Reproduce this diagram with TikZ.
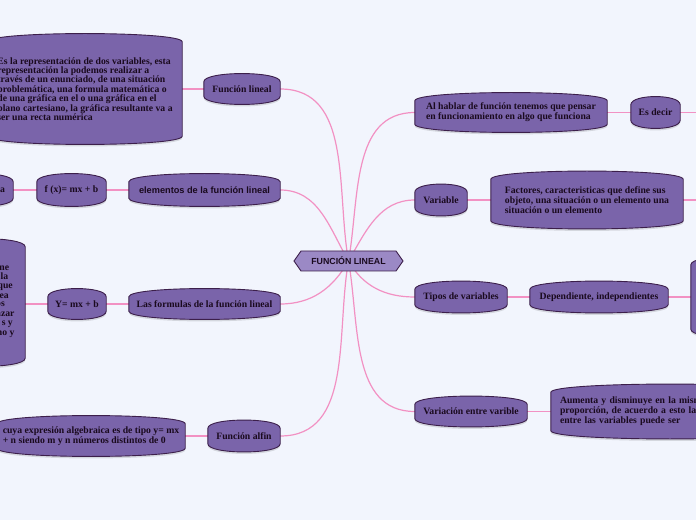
\documentclass[tikz,border=0pt]{standalone}
\usepackage{fontspec}
\setmainfont{Liberation Serif}
\newfontfamily\sansf{Liberation Sans}
\usetikzlibrary{shapes.symbols}
\definecolor{bgc}{HTML}{F2F5FD}
\definecolor{boxc}{HTML}{7A64AA}
\definecolor{borderc}{HTML}{3C1F4B}
\definecolor{hexc}{HTML}{9B89C5}
\definecolor{linec}{HTML}{F291C3}
\definecolor{textc}{HTML}{1A0A1E}
\pgfdeclarelayer{bg}
\pgfdeclarelayer{mid}
\pgfsetlayers{bg,mid,main}
\newcommand\mmshape[2][]{%
  \path[#1] ([yshift=-5pt]#2.north west) .. controls ([yshift=6pt]#2.north west) and ([yshift=6pt]#2.north east) .. ([yshift=-5pt]#2.north east)
  -- ([yshift=5pt]#2.south east) .. controls ([yshift=-6pt]#2.south east) and ([yshift=-6pt]#2.south west) .. ([yshift=5pt]#2.south west) -- cycle;}
\tikzset{
  bxt/.style={inner sep=0pt, text=textc, font=\fontsize{9.7}{10}\selectfont\bfseries, align=left},
  boxst/.style={fill=boxc, draw=borderc, line width=0.9pt},
  shadowst/.style={fill=black, opacity=0.12},
  conn/.style={draw=linec, line width=1.2pt},
  frag/.style={inner sep=0pt, text=textc, font=\fontsize{9.7}{10}\selectfont\bfseries, anchor=base east}
}
\begin{document}
\begin{tikzpicture}[x=1pt,y=1pt]
\useasboundingbox (0,0) rectangle (696,520);
% center
\node[signal, signal to=west and east, signal pointer angle=110, minimum width=109pt, minimum height=20pt, inner sep=0pt,
  fill=hexc, draw=borderc, line width=0.9pt, text=textc, font=\sansf\fontsize{8.8}{10}\selectfont\bfseries] (c) at (348.5,259) {FUNCIÓN LINEAL};
% left side
\node[bxt, minimum width=194pt, minimum height=104pt, font=\fontsize{9.7}{9.4}\selectfont\bfseries] (big1) at (85,431) {Es la representación de dos variables, esta\\ representación la podemos realizar a\\ través de un enunciado, de una situación\\ problemática, una formula matemática o\\ de una gráfica en el o una gráfica en el\\ plano cartesiano, la gráfica resultante va a\\ ser una recta numérica};
\node[bxt, minimum width=76pt, minimum height=24pt] (fl) at (242,431) {Función lineal};
\node[bxt, minimum width=151pt, minimum height=26pt, font=\sansf\fontsize{9.2}{10}\selectfont\bfseries] (elem) at (204.5,330) {elementos de la función lineal};
\node[bxt, minimum width=69pt, minimum height=26pt] (fx) at (71.5,330) {f (x)= mx + b};
\node[bxt, minimum width=66pt, minimum height=26pt, text width=50pt, align=right, inner xsep=8pt] (pa) at (-20,330) {a};
\node[bxt, minimum width=151pt, minimum height=24pt] (lf) at (204.5,216) {Las formulas de la función lineal};
\node[bxt, minimum width=58pt, minimum height=24pt] (yx) at (77,216) {Y= mx + b};
\node[bxt, minimum width=85pt, minimum height=121pt] (tall) at (-17.5,217.5) {};
\node[frag] (t1) at (9.3,249.5) {ne};
\node[frag] (t2) at (8.3,240.5) {la};
\node[frag] (t3) at (13,231.5) {que};
\node[frag] (t4) at (9,222) {ea};
\node[frag] (t5) at (5,213) {os};
\node[frag] (t6) at (14.7,203.5) {azar};
\node[frag] (t7) at (13,194.5) {s y};
\node[frag] (t8) at (14.7,184.5) {no y};
\node[bxt, minimum width=188pt, minimum height=34pt] (bl) at (91,84) {cuya expresión algebraica es de tipo y= mx\\ + n siendo m y n números distintos de 0};
\node[bxt, minimum width=72pt, minimum height=25pt] (fa) at (244,84) {Función alfin};
% right side
\node[bxt, minimum width=192pt, minimum height=33pt] (ah) at (511,407.5) {Al hablar de función tenemos que pensar\\ en funcionamiento en algo que funciona};
\node[bxt, minimum width=49pt, minimum height=25pt] (ed) at (655.5,407.5) {Es decir};
\coordinate (edR) at (700,407.5);
\node[bxt, minimum width=52pt, minimum height=25pt] (va) at (441,320) {Variable};
\node[bxt, minimum width=192pt, minimum height=51pt] (fac) at (587,320) {Factores, caracteristicas que define sus\\ objeto, una situación o un elemento una\\ situación o un elemento};
\coordinate (facR) at (700,320);
\node[bxt, minimum width=92pt, minimum height=25pt] (tv) at (461,223) {Tipos de variables};
\node[bxt, minimum width=138pt, minimum height=25pt] (dep) at (599,223) {Dependiente, independientes};
\node[bxt, minimum width=80pt, minimum height=74pt] (q) at (731,223) {};
\node[bxt, minimum width=112pt, minimum height=24pt] (vev) at (471,108.5) {Variación entre varible};
\node[bxt, minimum height=48pt, text width=220pt, inner xsep=9pt] (aum) at (670,108.5) {Aumenta y disminuye en la misma\\ proporción, de acuerdo a esto la relación\\ entre las variables puede ser};
% shapes
\begin{pgfonlayer}{mid}
\foreach \n in {big1,fl,elem,fx,pa,lf,yx,tall,bl,fa,ah,ed,va,fac,tv,dep,q,vev,aum}{
  \mmshape[shadowst, transform canvas={yshift=-2pt}]{\n}
  \mmshape[boxst]{\n}
}
\end{pgfonlayer}
% connectors
\begin{pgfonlayer}{bg}
\fill[bgc] (0,0) rectangle (696,520);
\draw[conn] (fl.east) to[out=0, in=100] (c.center);
\draw[conn] (elem.east) to[out=0, in=120] (c.center);
\draw[conn] (lf.east) to[out=0, in=-120] (c.center);
\draw[conn] (fa.east) to[out=0, in=-100] (c.center);
\draw[conn] (ah.west) to[out=180, in=80] (c.center);
\draw[conn] (va.west) to[out=180, in=60] (c.center);
\draw[conn] (tv.west) to[out=180, in=-60] (c.center);
\draw[conn] (vev.west) to[out=180, in=-80] (c.center);
\draw[conn] (big1.east) -- (fl.west);
\draw[conn] (pa.east) -- (fx.west);
\draw[conn] (fx.east) -- (elem.west);
\draw[conn] (yx.west -| tall.east) -- (yx.west);
\draw[conn] (yx.east) -- (lf.west);
\draw[conn] (bl.east) -- (fa.west);
\draw[conn] (ah.east) -- (ed.west);
\draw[conn] (ed.east) -- (edR);
\draw[conn] (va.east) -- (fac.west);
\draw[conn] (fac.east) -- (facR);
\draw[conn] (tv.east) -- (dep.west);
\draw[conn] (dep.east) -- (q.west);
\draw[conn] (vev.east) -- (aum.west);
\end{pgfonlayer}
\end{tikzpicture}
\end{document}
